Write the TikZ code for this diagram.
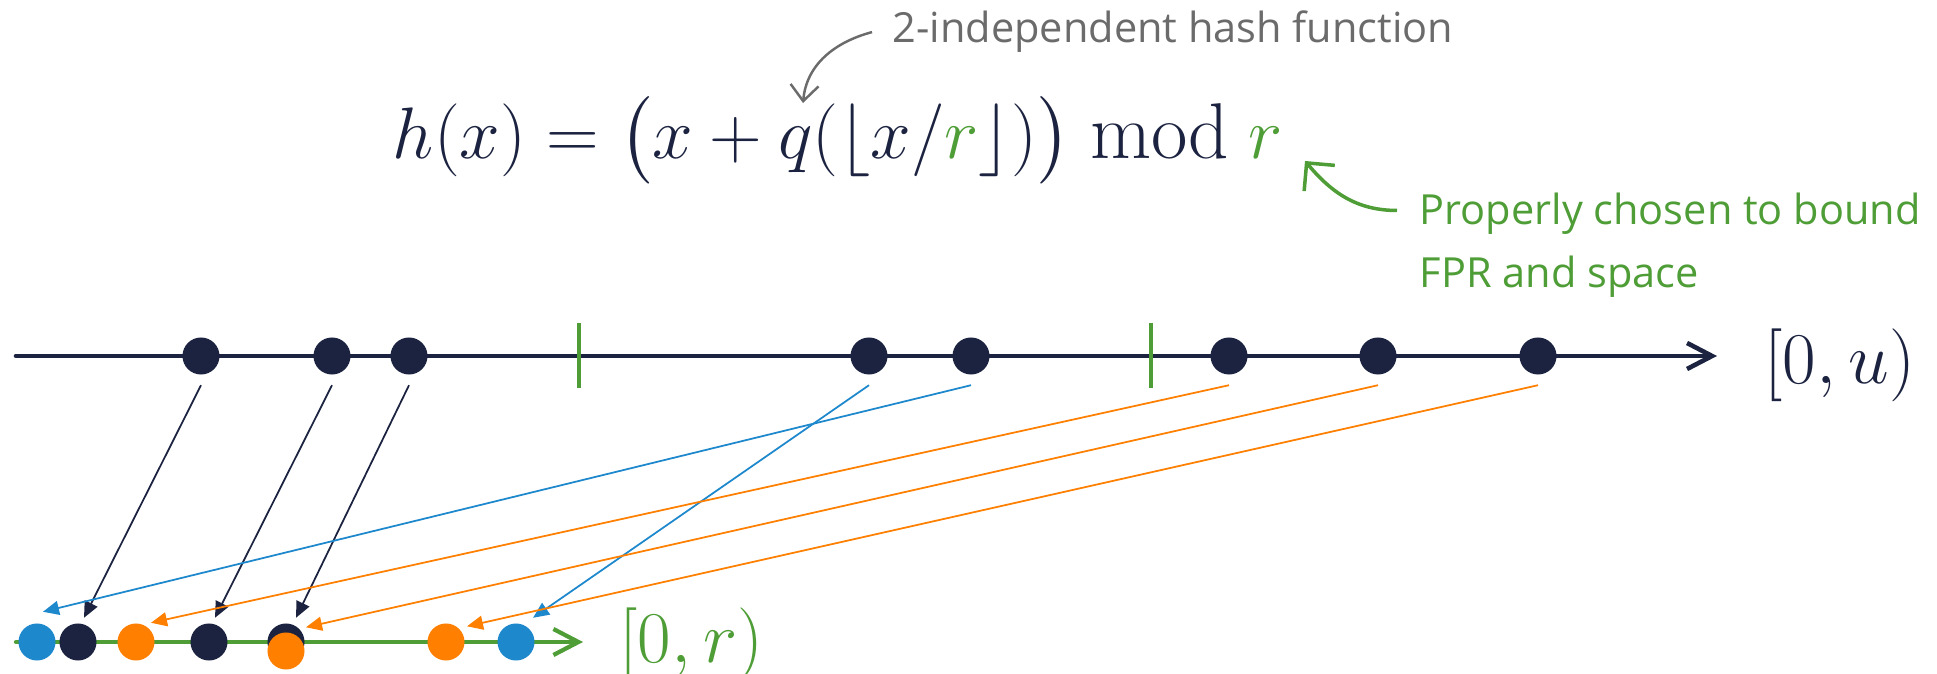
\documentclass[tikz,border=0pt]{standalone}
\usepackage{fontspec}
\usepackage{amsmath}
\newfontfamily\osans{Open Sans}
\usetikzlibrary{arrows.meta,positioning}
\definecolor{navy}{HTML}{1C2340}
\definecolor{rblue}{HTML}{1E88CC}
\definecolor{rorange}{HTML}{FF8000}
\definecolor{rgreen}{HTML}{4E9D36}
\definecolor{hgray}{HTML}{6B6B6B}

\begin{document}
\begin{tikzpicture}[x=0.01cm, y=-0.01cm,
  dot/.style={circle, fill=#1, minimum size=3.7mm, inner sep=0pt},
  link/.style={#1, line width=0.5pt, -{Triangle[length=1.6mm,width=1.4mm]}},
  axis/.style={#1, line width=1.3pt, line cap=round, -{Straight Barb[length=2.5mm,width=2.6mm]}},
  tick/.style={rgreen, line width=1.4pt},
  note/.style={font={\osans\fontsize{11.8}{18}\selectfont}, inner sep=0pt, align=left}]
\useasboundingbox (0,0) rectangle (1937,674);
% formula and its two remarks
\node[anchor=base, inner sep=0pt, text=navy, font={\fontsize{22.5}{26}\selectfont}] (hx) at (838,159)
  {$h(x) = \bigl(x + q(\lfloor x/\textcolor{rgreen}{r}\rfloor)\bigr) \bmod \textcolor{rgreen}{r}$};
\node[note, text=hgray, anchor=base west] (hash) at (892,43) {2-independent hash function};
\node[note, text=rgreen, anchor=base west] (fpr) at (1419,288) {Properly chosen to bound\\FPR and space};
\coordinate (qpt) at (803,103);
\coordinate (rpt) at (1305,161);
\draw[hgray, line width=0.7pt, -{Straight Barb[length=1.6mm,width=2.8mm]}] ([xshift=-2mm]hash.west) to[out=195, in=85] (qpt);
\draw[rgreen, line width=1pt, -{Straight Barb[length=2mm,width=4mm]}] ([xshift=-2.2mm,yshift=-1.8mm]fpr.north west) to[out=180, in=-50] (rpt);
% universe [0,u)
\coordinate (u0) at (16,356); \coordinate (u1) at (1717,356);
\draw[axis=navy] (u0) -- (u1);
\node[anchor=west, inner sep=0pt, text=navy, font={\fontsize{20}{24}\selectfont}] (ulab) at (1764,365) {$[0,u)$};
\foreach \x in {579,1151} \draw[tick] (\x,323) -- (\x,388);
\foreach \x [count=\i] in {201,332,409,869,971,1229,1378,1538}
  \node[dot=navy] (t\i) at (\x,356) {};
% range [0,r)
\coordinate (r0) at (16,642); \coordinate (r1) at (583,642);
\draw[axis=rgreen, line width=1.2pt] (r0) -- (r1);
\node[anchor=west, inner sep=0pt, text=rgreen, font={\fontsize{20}{24}\selectfont}] (rlab) at (619,644) {$[0,r)$};
\foreach \x/\y/\c [count=\i] in {37/642/rblue, 78/642/navy, 136/642/rorange, 209/642/navy, 286/642/navy, 286/651/rorange, 446/642/rorange, 516/642/rblue}
  \node[dot=\c] (b\i) at (\x,\y) {};
% hashing
\foreach \a/\b/\dx/\dy/\c in {t1/b2/.6/.5/navy, t2/b4/.6/.5/navy, t3/b5/1/.5/navy, t4/b8/1.7/.5/rblue, t5/b1/.6/1.1/rblue, t6/b3/1.5/0/rorange, t7/b6/2/.45/rorange, t8/b7/2.1/-.35/rorange}
  \draw[link=\c] ([yshift=-1mm]\a.south) -- ([xshift=\dx mm, yshift=\dy mm]\b.north);
\end{tikzpicture}
\end{document}
